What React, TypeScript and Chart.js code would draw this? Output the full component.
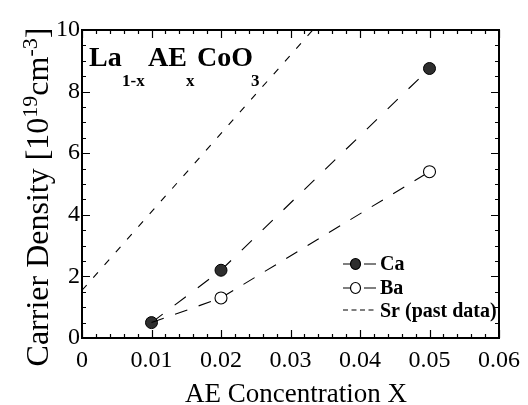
import React, { useEffect, useRef } from "react";
import { Chart, registerables } from "chart.js";

Chart.register(...registerables);

// ---- data ----
const caX = [0.01, 0.02, 0.05];
const caY = [0.5, 2.2, 8.75];
const baX = [0.01, 0.02, 0.05];
const baY = [0.5, 1.3, 5.4];
const srX = [0, 0.0332];
const srY = [1.55, 10];

const xTicks = [0, 0.01, 0.02, 0.03, 0.04, 0.05, 0.06];
const yTicks = [0, 2, 4, 6, 8, 10];
const legendLabels = ["Ca", "Ba", "Sr (past data)"];
const xTitle = "AE Concentration X";
const SERIF = '"Liberation Serif", "DejaVu Serif", serif';

const toPts = (xs: number[], ys: number[]) => xs.map((x, i) => ({ x, y: ys[i] }));

const framePlugin = {
  id: "frameTicks",
  afterDatasetsDraw(chart: any) {
    const { ctx, chartArea, scales } = chart;
    const { left, right, top, bottom } = chartArea;
    const x = scales.x;
    const y = scales.y;
    ctx.save();
    ctx.strokeStyle = "#000";
    ctx.lineWidth = 1.2;
    ctx.beginPath();
    for (let i = 0; i <= 30; i++) {
      const px = Math.round(x.getPixelForValue(i * 0.002)) + 0.5;
      const len = i % 5 === 0 ? 8 : 4;
      ctx.moveTo(px, bottom);
      ctx.lineTo(px, bottom - len);
      ctx.moveTo(px, top);
      ctx.lineTo(px, top + len);
    }
    for (let i = 0; i <= 20; i++) {
      const py = Math.round(y.getPixelForValue(i * 0.5)) + 0.5;
      const len = i % 4 === 0 ? 8 : 4;
      ctx.moveTo(left, py);
      ctx.lineTo(left + len, py);
      ctx.moveTo(right, py);
      ctx.lineTo(right - len, py);
    }
    ctx.stroke();
    ctx.lineWidth = 2;
    ctx.strokeRect(left, top, right - left, bottom - top);
    ctx.restore();
  },
  afterDraw(chart: any) {
    const { ctx } = chart;
    ctx.save();
    ctx.fillStyle = "#000";
    ctx.textBaseline = "alphabetic";

    // x title
    ctx.font = `27px ${SERIF}`;
    ctx.textAlign = "center";
    ctx.fillText(xTitle, 296, 402);

    // y title with superscripts
    const runs: [string, boolean][] = [
      ["Carrier Density [10", false],
      ["19", true],
      ["cm", false],
      ["-3", true],
      ["]", false],
    ];
    const mainFont = `32px ${SERIF}`;
    const supFont = `22px ${SERIF}`;
    let total = 0;
    for (const [t, sup] of runs) {
      ctx.font = sup ? supFont : mainFont;
      total += ctx.measureText(t).width;
    }
    ctx.save();
    ctx.translate(48, 197);
    ctx.rotate(-Math.PI / 2);
    ctx.textAlign = "left";
    let cx = -total / 2;
    for (const [t, sup] of runs) {
      ctx.font = sup ? supFont : mainFont;
      ctx.fillText(t, cx, sup ? -11 : 0);
      cx += ctx.measureText(t).width;
    }
    ctx.restore();

    // formula La1-xAExCoO3
    ctx.textAlign = "left";
    ctx.font = `bold 28px ${SERIF}`;
    ctx.fillText("La", 89, 66);
    ctx.fillText("AE", 148, 66);
    ctx.fillText("CoO", 197, 66);
    ctx.font = `bold 17px ${SERIF}`;
    ctx.fillText("1-x", 122, 86);
    ctx.fillText("x", 186, 86);
    ctx.fillText("3", 251, 86);

    // legend
    ctx.strokeStyle = "#000";
    ctx.lineWidth = 1.2;
    const rows = [264, 288, 310];
    const textBase = [270, 294, 317];
    for (let i = 0; i < 2; i++) {
      const ry = rows[i];
      ctx.beginPath();
      ctx.moveTo(343, ry);
      ctx.lineTo(350, ry);
      ctx.moveTo(364, ry);
      ctx.lineTo(376, ry);
      ctx.stroke();
      ctx.beginPath();
      ctx.ellipse(355.5, ry, 5, 5.5, 0, 0, Math.PI * 2);
      ctx.fillStyle = i === 0 ? "#2e2e2e" : "#fff";
      ctx.fill();
      ctx.stroke();
    }
    ctx.beginPath();
    ctx.setLineDash([5, 3.5]);
    ctx.moveTo(343, rows[2]);
    ctx.lineTo(377, rows[2]);
    ctx.stroke();
    ctx.setLineDash([]);
    ctx.fillStyle = "#000";
    ctx.font = `bold 20px ${SERIF}`;
    legendLabels.forEach((l, i) => ctx.fillText(l, 380, textBase[i]));
    ctx.restore();
  },
};

export default function App() {
  const ref = useRef<HTMLCanvasElement | null>(null);
  useEffect(() => {
    if (!ref.current) return;
    const chart = new Chart(ref.current, {
      type: "scatter",
      data: {
        datasets: [
          {
            label: "Sr (past data)",
            data: toPts(srX, srY),
            showLine: true,
            borderColor: "#000",
            borderWidth: 1.1,
            borderDash: [7, 10],
            pointRadius: 0,
          },
          {
            label: "Ba",
            data: toPts(baX, baY),
            showLine: true,
            borderColor: "#000",
            borderWidth: 1.1,
            borderDash: [13, 12],
            pointRadius: [0, 6, 6],
            pointBackgroundColor: "#fff",
            pointBorderColor: "#000",
            pointBorderWidth: 1.1,
          },
          {
            label: "Ca",
            data: toPts(caX, caY),
            showLine: true,
            borderColor: "#000",
            borderWidth: 1.1,
            borderDash: [14, 15],
            pointRadius: 6,
            pointBackgroundColor: "#2e2e2e",
            pointBorderColor: "#000",
            pointBorderWidth: 1,
          },
        ],
      },
      options: {
        animation: false,
        responsive: false,
        devicePixelRatio: 1,
        layout: { padding: { left: 0, right: 24, top: 30, bottom: 0 } },
        plugins: { legend: { display: false }, tooltip: { enabled: false } },
        scales: {
          x: {
            type: "linear",
            min: 0,
            max: 0.06,
            afterBuildTicks: (s: any) => {
              s.ticks = xTicks.map((v) => ({ value: v }));
            },
            afterFit: (s: any) => {
              s.height = 67;
            },
            grid: { display: false, drawTicks: false },
            border: { display: false },
            ticks: {
              padding: 8,
              color: "#000",
              maxRotation: 0,
              font: { family: SERIF, size: 24 },
              callback: (v: any) => (v === 0 ? "0" : Number(v).toFixed(2)),
            },
          },
          y: {
            type: "linear",
            min: 0,
            max: 10,
            afterBuildTicks: (s: any) => {
              s.ticks = yTicks.map((v) => ({ value: v }));
            },
            afterFit: (s: any) => {
              s.width = 82;
            },
            grid: { display: false, drawTicks: false },
            border: { display: false },
            ticks: {
              padding: 2,
              color: "#000",
              font: { family: SERIF, size: 24 },
              callback: (v: any) => String(v),
            },
          },
        },
      },
      plugins: [framePlugin],
    });
    return () => chart.destroy();
  }, []);
  return (
    <div style={{ position: "fixed", left: 0, top: 0, width: 528, height: 405, background: "#fff" }}>
      <canvas ref={ref} width={528} height={405} style={{ width: 528, height: 405 }} />
    </div>
  );
}
